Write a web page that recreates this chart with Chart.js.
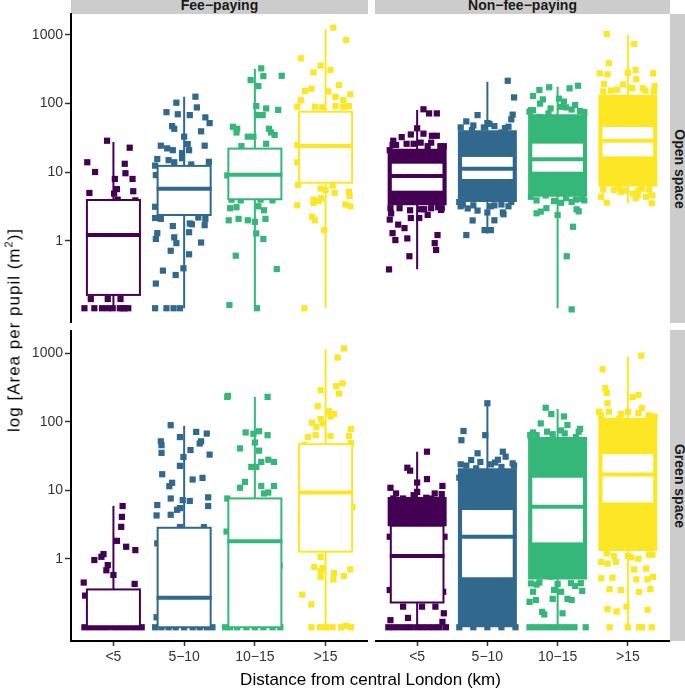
<!DOCTYPE html>
<html>
<head>
<meta charset="utf-8">
<script src="https://cdn.jsdelivr.net/npm/chart.js@4.4.1/dist/chart.umd.min.js"></script>
<style>
  html, body { margin: 0; padding: 0; background: #fff; }
  #fig { position: relative; width: 685px; height: 688px; overflow: hidden; font-family: 'Liberation Sans', Arial, sans-serif; }
  canvas { position: absolute; }
  .strip-top { position: absolute; top: 0; height: 14px; background: #cccccc; overflow: hidden;
    text-align: center; font-weight: bold; font-size: 14px; line-height: 14px; color: #1a1a1a; }
  .strip-top span { position: relative; top: -2px; }
  .strip-side { position: absolute; left: 670px; width: 15px; background: #cccccc; overflow: hidden; }
  .strip-side span { position: absolute; left: 10px; top: 50%; transform: translate(-50%, -50%) rotate(90deg);
    white-space: nowrap; font-weight: bold; font-size: 14px; line-height: 14px; color: #1a1a1a; }
  #yTitle { position: absolute; left: 13.5px; top: 330px; transform: translate(-50%, -50%) rotate(-90deg);
    white-space: nowrap; font-size: 17px; line-height: 17px; letter-spacing: 1px; color: #000; }
  #yTitle sup { font-size: 11px; line-height: 0; }
  #xTitle { position: absolute; left: 71px; width: 599px; top: 671px; text-align: center;
    font-size: 17px; line-height: 17px; color: #000; white-space: nowrap; }
</style>
</head>
<body>
<div id="fig">
  <div class="strip-top" style="left:71px;width:297px"><span>Fee−paying</span></div>
  <div class="strip-top" style="left:375px;width:295px"><span>Non−fee−paying</span></div>
  <div class="strip-side" style="top:14px;height:309px"><span>Open space</span></div>
  <div class="strip-side" style="top:330px;height:311px"><span>Green space</span></div>

  <canvas id="feeOpen" width="368" height="323" style="left:0;top:0"></canvas>
  <canvas id="nonFeeOpen" width="295" height="323" style="left:375px;top:0"></canvas>
  <canvas id="feeGreen" width="368" height="341" style="left:0;top:330px"></canvas>
  <canvas id="nonFeeGreen" width="295" height="341" style="left:375px;top:330px"></canvas>

  <div id="yTitle">log [Area per pupil (m<sup>2</sup>)]</div>
  <div id="xTitle">Distance from central London (km)</div>
</div>

<script>
// ==========================================
// DATA
// ==========================================
const categories = ['<5', '5−10', '10−15', '>15'];
const tickValues = [1, 10, 100, 1000];
const tickLabels = ['1', '10', '100', '1000'];
const groupColors = ['#440154', '#31688E', '#35B779', '#FDE725'];

// y range of each panel row
const openRange = [0.064, 2015];
const greenRange = [0.063, 2200];

// box stats per category: [lower whisker, q1, median, q3, upper whisker]
const feeOpenBoxes = [
    [0.105, 0.164, 1.22, 3.95, 27.6],
    [0.105, 2.39, 5.77, 12.4, 126],
    [0.105, 4.05, 9.2, 22.1, 319],
    [0.105, 7.06, 24.1, 76.2, 1219]
];
const nonFeeOpenBoxes = [
    [0.387, 5.22, 8.83, 13.8, 80.7],
    [1.29, 7.73, 11.3, 17.3, 208],
    [0.105, 9.87, 15.5, 27, 176],
    [3.54, 16.5, 28.8, 47.2, 997]
];
const feeGreenBoxes = [
    [0.1, 0.1, 0.1, 0.357, 5.94],
    [0.1, 0.1, 0.27, 2.84, 87.5],
    [0.1, 0.1, 1.81, 7.62, 232],
    [0.1, 1.27, 9.32, 47.3, 1140]
];
const nonFeeGreenBoxes = [
    [0.1, 0.23, 1.1, 3.04, 36.7],
    [0.1, 0.52, 2.1, 5.33, 187],
    [0.1, 1.68, 5.75, 15.8, 154],
    [0.1, 6.45, 17.1, 34.8, 898]
];

// value range where the jittered points of the big groups overlap into a solid cloud
const nonFeeOpenClouds = [[3.3, 22], [3.7, 41], [4.4, 70], [6.2, 135]];
const nonFeeGreenClouds = [[3.0, 8.0], [0.1, 21], [0.5, 60], [1.3, 115]];

// jittered points per category: [x offset from category, value]
const feeOpenPoints = [
    [[-0.09,28.8],[-0.37,14],[-0.26,10.1],[0.23,22.8],[0.16,13.3],[0.17,9.7],[0.02,8],[0.27,8],[0.05,5.7],[0.01,4.9],
     [-0.34,5],[0.28,5.3],[0.31,3.9],[0.06,4],[-0.32,0.143],[-0.08,0.143],[0.1,0.143],
     [-0.41,0.105],[-0.27,0.105],[-0.16,0.105],[-0.08,0.105],[-0.01,0.105],[0.09,0.105],[0.16,0.105],[0.21,0.105],[0.13,0.105]],
    [[0.16,126],[-0.11,103],[0.18,88],[-0.25,75],[-0.09,70],[0.08,68],[0.3,63],[0.36,52],[-0.17,47],[-0.14,43],
     [0.24,39.5],[0,33],[-0.33,24.4],[-0.24,22.3],[0.05,25.8],[0.29,24.4],[0.07,21],[-0.16,21],[-0.38,15.6],[-0.22,15],
     [-0.03,16],[-0.03,19],[-0.14,14],[0.35,14.2],[-0.41,12.5],[0.1,13],[-0.4,9.1],[-0.41,3.15],[-0.41,2.16],[-0.33,2.1],
     [-0.38,1.3],[-0.4,1.07],[-0.16,1.65],[-0.19,0.72],[-0.14,1.13],[-0.11,0.93],[-0.01,0.4],[-0.12,0.32],[-0.3,0.37],[-0.4,0.24],
     [0.07,1.34],[0.08,1.8],[0.11,1.75],[0.29,1.7],[0.24,0.95],[0.07,0.64],[0.2,2.2],[0.3,2.1],
     [-0.41,0.105],[-0.25,0.105],[-0.15,0.105],[-0.06,0.105]],
    [[0.09,326],[-0.06,220],[0.12,251],[0.38,254],[0.05,180],[0.02,92],[0.16,85],[0.33,81],[0.03,68],[0.11,68],
     [-0.31,46],[-0.25,43],[-0.26,38],[-0.1,33],[-0.02,33],[0.2,43],[0.23,38],[0.28,35],[0.16,26],[-0.19,24],
     [-0.39,9],[-0.35,3],[-0.26,3.1],[-0.37,2],[-0.23,2.1],[-0.1,2],[0,1.9],[0.15,2.1],[0.05,3.2],[0.13,2.8],
     [0.02,1.29],[0.12,1.07],[-0.27,0.61],[0.31,0.39],[-0.36,0.117],[0.03,0.105],[-0.33,4],[-0.2,3.9],[0.08,4],[0.25,3.9]],
    [[0.11,1274],[0.29,843],[-0.35,456],[-0.07,357],[-0.17,285],[0.07,308],[0.19,186],[-0.29,152],[-0.2,165],[0.04,150],
     [0.35,136],[0.14,125],[-0.35,112],[0.25,112],[-0.4,90],[-0.15,90],[0.14,92],[0.33,92],[0.25,90],[-0.05,88],
     [-0.4,24.9],[-0.4,14],[-0.39,6.5],[-0.07,5.8],[0,5.5],[0.13,5],[0.33,5.2],[0.34,4.5],[-0.17,4],[-0.1,3.8],
     [-0.06,4.2],[0.1,6.4],[0.28,3.4],[0.35,3.2],[-0.4,3.3],[-0.17,3.6],[-0.19,2.25],[-0.15,2],[-0.02,1.44],[-0.3,0.105]]
];
const nonFeeOpenPoints = [
    [[0.09,82.6],[0.17,72],[0.28,72],[0,43.7],[-0.34,28.8],[-0.22,32.5],[-0.09,35.5],[0.09,36.5],[0.21,34],[0.28,34],
     [-0.39,21],[0.36,18],[-0.3,25],[-0.15,26],[0.05,27],[0.15,24],[0.33,24],
     [-0.35,25],[-0.05,26],[0.2,27],[0.38,24],
     [-0.37,2.53],[-0.39,2.05],[-0.27,1.73],[-0.18,1.54],[-0.35,1.3],[-0.09,2.16],[0.03,2.16],[0.15,2.4],[0.34,2.83],
     [-0.31,1.03],[-0.14,1.09],[0.29,1.22],[0.25,0.93],[0.27,0.74],[-0.11,0.6],[-0.4,0.386],
     [-0.25,3.0],[-0.1,2.8],[0.05,2.9],[0.2,3.0],[0.3,3.1],[-0.38,3.0],[0.1,2.9],[0.35,3.0]],
    [[0.29,215],[0.38,123],[-0.14,68],[0.36,69],[0.34,59],[0.03,50.6],[-0.22,41],[-0.34,32],[0.12,35],[0.2,38],
     [0.31,32],[-0.05,45],[0.25,44],
     [-0.38,45],[-0.2,48],[0,52],[0.1,47],[0.3,46],[-0.3,55],
     [-0.4,3.7],[-0.28,2.98],[-0.14,2.77],[-0.21,1.99],[0,2.6],[0.1,2.0],[0.22,2.6],[0.34,3.7],[-0.3,1.22],[-0.04,1.44],
     [0.05,1.44],[0.23,2.45],[-0.35,3.4],[0.1,3.3],[0.3,3.2],[-0.2,3.3],[0.05,3.2],[0.2,3.4],[-0.38,3.2]],
    [[-0.12,173],[-0.26,158],[0.17,167],[0.29,182],[-0.35,129],[-0.21,115],[0.02,118],[0.09,107],[0.12,88],[-0.4,76],
     [-0.13,72],[0.32,78],[-0.26,64],[0.17,61],[-0.35,80],[0.25,95],
     [-0.38,80],[-0.1,85],[0.05,90],[0.2,82],[0.38,75],[-0.25,100],
     [-0.38,4.4],[-0.17,4.6],[0.12,4.2],[0.26,4],[0.27,2.89],[0.3,2.7],[-0.3,2.53],[-0.24,2.68],[-0.16,3],[0,2.39],
     [0.22,1.61],[0.13,0.6],[0.2,0.101],[-0.05,3.8],[0.38,3.9],[-0.3,3.9],[0.05,3.6],[0.2,3.7],[0.35,4.1]],
    [[-0.3,1031],[0.09,738],[-0.27,386],[-0.4,276],[-0.29,267],[0,280],[0.11,308],[0.36,276],[0.12,226],[-0.34,193],
     [-0.07,190],[0.06,167],[0.21,167],[-0.24,155],[0.37,150],
     [-0.35,150],[-0.15,160],[0.05,170],[0.25,155],[0.38,180],
     [-0.38,4.4],[-0.3,3.61],[-0.03,5.4],[0.07,4.9],[0.14,4.6],[0.11,4.2],[0.26,4.4],[0.35,4.6],[0.34,3.54],[-0.12,6.2],
     [-0.2,5.5],[0.2,5.8],[-0.35,5.6],[-0.1,5.2],[0.15,5.4],[0.3,5.6]]
];
const feeGreenPoints = [
    [[0.13,5.9],[0.12,4.1],[0.11,2.93],[0.05,1.83],[0.18,1.5],[0.31,1.34],[-0.14,1.17],[-0.17,1.07],[-0.27,0.96],[-0.08,0.81],
     [-0.1,0.68],[0,0.58],[-0.42,0.45],[0.3,0.43],[-0.4,0.29],
     [-0.41,0.1],[-0.33,0.1],[-0.25,0.1],[-0.17,0.1],[-0.09,0.1],[0,0.1],[0.08,0.1],[0.16,0.1],[0.24,0.1],[0.32,0.1],[0.4,0.1]],
    [[-0.19,89.5],[-0.33,52],[-0.32,45.7],[-0.06,60],[0.17,71.4],[0.32,67.5],[0.22,48.3],[0.24,52],[-0.32,35.3],[0.09,38.8],
     [0.36,33.3],[-0.01,30.7],[-0.31,17.2],[-0.06,22.8],[0.12,14.4],[0.26,15.2],[-0.17,12.9],[-0.21,11.5],[-0.19,7.6],[0.08,7],
     [-0.02,7.2],[0.34,7.9],[0.34,5.9],[-0.38,6.1],[-0.39,4.3],[-0.19,4.4],[-0.1,5.2],[-0.06,5.5],[-0.38,1.68],[-0.39,0.14],
     [-0.06,2.9],[0.28,2.9],
     [-0.41,0.1],[-0.32,0.1],[-0.22,0.1],[-0.12,0.1],[0,0.1],[0.12,0.1],[0.22,0.1],[0.32,0.1],[0.4,0.1]],
    [[-0.39,232],[-0.38,240],[0.18,232],[-0.13,70],[0.06,73],[0.18,64],[-0.02,67],[0,50],[-0.21,41],[0.06,38],
     [-0.05,22],[0.02,22],[0.09,26],[0.19,28],[0.27,26],[-0.14,13.3],[-0.21,10.9],[0.09,11.6],[0.27,11.6],[0.13,9],
     [0.19,9.3],[-0.39,7.6],[-0.4,2.5],[0.35,0.79],
     [-0.42,0.1],[-0.35,0.1],[-0.25,0.1],[-0.12,0.1],[0,0.1],[0.12,0.1],[0.25,0.1],[0.36,0.1]],
    [[0.26,1180],[0.17,870],[-0.07,290],[0.15,333],[0.24,365],[0.19,260],[-0.11,169],[0.05,143],[0.12,130],[0.07,120],
     [-0.19,97],[-0.07,110],[-0.04,95],[-0.13,84],[0.36,79],[-0.25,60],[-0.14,64],[0.07,62],[0.33,62],[-0.3,46],
     [0.36,49],[-0.35,3.9],[0.38,5.7],[-0.07,1.07],[-0.16,0.76],[-0.07,0.67],[-0.04,0.73],[-0.07,0.54],[0.12,0.62],[0.11,0.5],
     [0.26,0.56],[0.35,0.7],[-0.33,0.3],[-0.2,0.216],
     [-0.2,0.1],[-0.08,0.1],[0.01,0.1],[0.1,0.1],[0.22,0.1],[0.29,0.105],[0.36,0.1]]
];
const nonFeeGreenPoints = [
    [[0.14,36.7],[-0.14,21.4],[-0.1,19.4],[0.14,14.6],[0,13],[-0.38,10.9],[0.36,11.6],[-0.34,7.6],[-0.2,7.6],[0.13,7.8],
     [0.2,7.6],[0.32,6.3],[-0.32,5.45],[-0.09,5.8],[0.06,6.8],[-0.37,3.9],[0.29,4.1],[-0.23,4.1],[0,9.5],[-0.05,8.5],[0.25,9],
     [-0.3,9],[0.35,8.8],
     [-0.39,2.1],[0.39,2.1],[-0.39,0.35],[0.37,0.33],[-0.2,0.2],[0.07,0.2],[0.26,0.2],[0.38,0.16],[-0.38,0.127],[-0.13,0.137],[0.36,0.12],
     [-0.41,0.1],[-0.33,0.1],[-0.25,0.1],[-0.17,0.1],[-0.09,0.1],[0,0.1],[0.08,0.1],[0.16,0.1],[0.24,0.1],[0.32,0.1],[0.41,0.1]],
    [[0,187],[-0.34,73.6],[-0.37,54],[-0.03,64],[-0.14,34.8],[-0.23,27.7],[0.22,36.7],[0.36,24.8],[0.11,25.5],[-0.4,15.3],
     [0.26,31],[-0.16,21],[0.34,17],[-0.3,23],[0.05,24],[0.2,22],
     [-0.38,24],[-0.1,26],[0.15,28],[0.38,23],
     [-0.4,0.1],[-0.2,0.1],[0,0.1],[0.2,0.1],[0.4,0.1]],
    [[-0.17,161],[-0.09,130],[0.09,120],[-0.24,95],[0.14,90],[0.32,79],[-0.39,64],[-0.3,64],[-0.35,53],[-0.07,66],
     [0.26,60],[0.05,75],
     [-0.35,70],[-0.15,72],[0.1,68],[0.3,72],
     [-0.38,0.437],[-0.26,0.45],[-0.09,0.55],[-0.35,0.33],[0.33,0.44],[0.35,0.34],[0.19,0.44],[-0.05,0.35],[0.05,0.33],[0.2,0.25],
     [-0.4,0.235],[-0.31,0.25],[-0.07,0.26],[-0.22,0.168],[-0.19,0.154],[0.07,0.16],[0.14,0.26],
     [-0.3,0.42],[0,0.43],[0.25,0.4],
     [-0.4,0.1],[-0.32,0.1],[-0.24,0.1],[-0.16,0.1],[-0.08,0.1],[0,0.1],[0.08,0.1],[0.16,0.1],[0.24,0.1],[0.4,0.1]],
    [[0.19,929],[-0.36,588],[-0.32,310],[-0.3,265],[-0.29,187],[0.15,247],[0.07,230],[-0.41,141],[-0.27,141],[0.2,160],
     [0.34,107],[-0.12,110],[0,140],[0.3,125],
     [-0.38,125],[-0.1,130],[0.15,135],[0.38,120],
     [0,1.1],[-0.3,1.2],[0.3,1.15],[0.15,1.0],[-0.2,1.1],[0.05,1.05],[0.35,1.15],
     [-0.38,0.9],[-0.29,0.85],[-0.17,0.9],[0.26,0.72],[0.09,0.7],[0.36,0.545],[-0.38,0.52],[-0.22,0.53],[-0.1,0.35],[0.28,0.5],
     [0.12,0.5],[0.16,0.33],[-0.26,0.36],[0.32,0.36],[-0.29,0.184],[-0.16,0.17],[-0.02,0.2],[0.28,0.18],
     [-0.26,0.1],[0,0.1],[0.16,0.1],[0.2,0.1],[0.34,0.1]]
];

// ==========================================
// BOXPLOT PLUGIN (box, whiskers, median on top of the points)
// ==========================================
const boxplotPlugin = {
    id: 'boxplot',
    afterDatasetsDraw(chart, args, opts) {
        const { ctx, chartArea } = chart;
        const xs = chart.scales.x;
        const ys = chart.scales.y;
        ctx.save();
        ctx.beginPath();
        ctx.rect(chartArea.left, chartArea.top, chartArea.right - chartArea.left, chartArea.bottom - chartArea.top);
        ctx.clip();
        opts.stats.forEach((s, i) => {
            const color = groupColors[i];
            const x0 = xs.getPixelForValue(i + 1 - 0.375);
            const x1 = xs.getPixelForValue(i + 1 + 0.375);
            const xc = xs.getPixelForValue(i + 1);
            const [lo, q1, med, q3, hi] = s.map(v => ys.getPixelForValue(v));

            ctx.strokeStyle = color;
            ctx.lineCap = 'butt';
            ctx.lineWidth = 2;
            ctx.beginPath();
            ctx.moveTo(xc, hi); ctx.lineTo(xc, q3);
            ctx.moveTo(xc, q1); ctx.lineTo(xc, lo);
            ctx.stroke();

            ctx.fillStyle = '#ffffff';
            ctx.fillRect(x0, q3, x1 - x0, q1 - q3);
            ctx.strokeRect(x0, q3, x1 - x0, q1 - q3);

            ctx.lineWidth = 4;
            ctx.beginPath();
            ctx.moveTo(x0 - 1, med); ctx.lineTo(x1 + 1, med);
            ctx.stroke();
        });
        ctx.restore();
    }
};

// ==========================================
// PANEL BUILDER
// ==========================================
const buildPanel = (canvasId, boxes, points, clouds, range, showX, showY, isTop) => {
    const datasets = [];
    if (clouds) {
        datasets.push({
            type: 'bar',
            data: clouds.map((c, i) => ({ x: i + 1, y: [c[0], c[1]] })),
            backgroundColor: groupColors,
            borderWidth: 0,
            barPercentage: 1,
            categoryPercentage: 0.84,
            order: 2
        });
    }
    points.forEach((grp, i) => {
        datasets.push({
            type: 'scatter',
            data: grp.map(p => ({ x: i + 1 + p[0], y: p[1] })),
            pointStyle: 'rect',
            pointRadius: 4.4,
            backgroundColor: groupColors[i],
            borderWidth: 0,
            order: 1
        });
    });

    return new Chart(document.getElementById(canvasId), {
        type: 'scatter',
        data: { datasets },
        plugins: [boxplotPlugin],
        options: {
            responsive: false,
            animation: false,
            devicePixelRatio: 1,
            events: [],
            layout: { autoPadding: false, padding: { top: isTop ? 14 : 0, left: 0, right: 0, bottom: 0 } },
            plugins: {
                legend: { display: false },
                tooltip: { enabled: false },
                boxplot: { stats: boxes }
            },
            scales: {
                x: {
                    type: 'linear',
                    min: 0.4,
                    max: 4.6,
                    offset: false,
                    display: showX,
                    afterFit: s => {
                        if (showX) s.height = 30;
                        s.paddingLeft = 0;
                        s.paddingRight = 0;
                    },
                    afterBuildTicks: s => { s.ticks = categories.map((c, i) => ({ value: i + 1 })); },
                    ticks: {
                        callback: v => categories[v - 1],
                        font: { size: 14 },
                        color: '#333333',
                        padding: 3,
                        maxRotation: 0,
                        autoSkip: false
                    },
                    grid: { offset: false, drawOnChartArea: false, drawTicks: true, tickLength: 5, tickWidth: 1.5, tickColor: '#333333' },
                    border: { display: true, color: '#000000', width: 2 }
                },
                y: {
                    type: 'logarithmic',
                    min: range[0],
                    max: range[1],
                    display: showY,
                    afterFit: s => {
                        if (showY) s.width = 71;
                        s.paddingTop = 0;
                        s.paddingBottom = 0;
                    },
                    afterBuildTicks: s => { s.ticks = tickValues.map(v => ({ value: v })); },
                    ticks: {
                        callback: v => tickLabels[tickValues.indexOf(v)],
                        font: { size: 14 },
                        color: '#333333',
                        padding: 2
                    },
                    grid: { drawOnChartArea: false, drawTicks: true, tickLength: 6, tickWidth: 1.5, tickColor: '#333333' },
                    border: { display: true, color: '#000000', width: 2 }
                }
            }
        }
    });
};

Chart.defaults.font.family = "'Liberation Sans', Arial, sans-serif";

buildPanel('feeOpen', feeOpenBoxes, feeOpenPoints, null, openRange, false, true, true);
buildPanel('nonFeeOpen', nonFeeOpenBoxes, nonFeeOpenPoints, nonFeeOpenClouds, openRange, false, false, true);
buildPanel('feeGreen', feeGreenBoxes, feeGreenPoints, null, greenRange, true, true, false);
buildPanel('nonFeeGreen', nonFeeGreenBoxes, nonFeeGreenPoints, nonFeeGreenClouds, greenRange, true, false, false);
</script>
</body>
</html>
